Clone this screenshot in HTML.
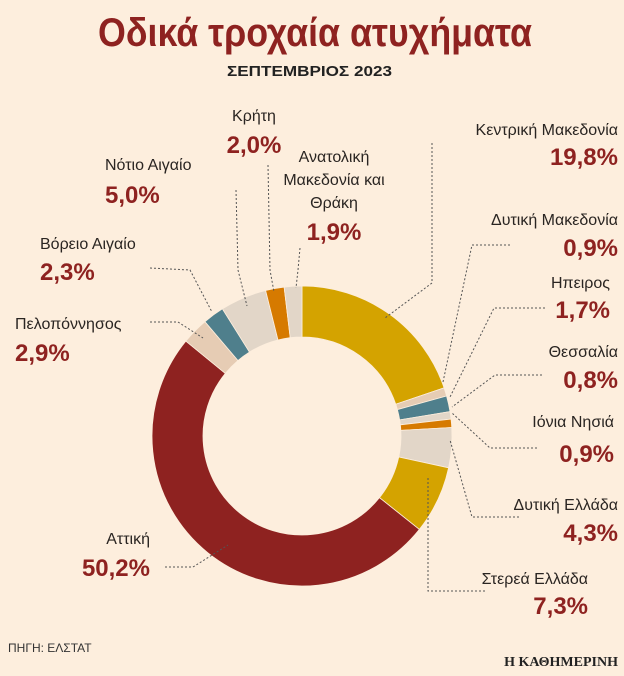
<!DOCTYPE html>
<html><head><meta charset="utf-8"><style>
body{margin:0;background:#fdeedd;}
svg{display:block;font-family:"Liberation Sans",sans-serif;}
.l{font-size:16px;fill:#2a2522;}
.p{font-family:"Liberation Sans",sans-serif;font-weight:bold;font-size:24px;fill:#8e2220;}
.ld{fill:none;stroke:#555;stroke-width:1;stroke-dasharray:2 2;}
</style></head><body>
<svg width="624" height="676" viewBox="0 0 624 676">
<rect width="624" height="676" fill="#fdeedd"/>
<text x="98" y="46" textLength="434" lengthAdjust="spacingAndGlyphs" font-weight="bold" font-size="40" fill="#8e2220">Οδικά τροχαία ατυχήματα</text>
<text x="227" y="76" textLength="165" lengthAdjust="spacingAndGlyphs" font-weight="bold" font-size="15" fill="#222">ΣΕΠΤΕΜΒΡΙΟΣ 2023</text>
<g id="slices"></g>
<g id="leaders"></g>
<g id="labels"></g>
<text x="8" y="652" font-size="12" fill="#333">ΠΗΓΗ: ΕΛΣΤΑΤ</text>
<text x="618" y="666" text-anchor="end" font-family="'Liberation Serif',serif" font-weight="bold" font-size="14" fill="#222">Η ΚΑΘΗΜΕΡΙΝΗ</text>
</svg>
<script>
const regions=["Κεντρική Μακεδονία","Δυτική Μακεδονία","Ήπειρος","Θεσσαλία","Ιόνια Νησιά","Δυτική Ελλάδα","Στερεά Ελλάδα","Αττική","Πελοπόννησος","Βόρειο Αιγαίο","Νότιο Αιγαίο","Κρήτη","Ανατολική Μακεδονία και Θράκη"];
const values=[19.8,0.9,1.7,0.8,0.9,4.3,7.3,50.2,2.9,2.3,5.0,2.0,1.9];
const colors=["#d4a300","#e6ccb4","#4f7f8c","#e2d6c8","#d67a00","#e2d6c8","#d4a300","#8e2220","#e6ccb4","#4f7f8c","#e2d6c8","#d67a00","#e2d6c8"];
const valueLabels=["19,8%","0,9%","1,7%","0,8%","0,9%","4,3%","7,3%","50,2%","2,9%","2,3%","5,0%","2,0%","1,9%"];
const NS="http://www.w3.org/2000/svg";
const cx=302,cy=436,R=150,r=99;
const total=values.reduce((a,b)=>a+b,0);
const pt=(a,rad)=>[cx+rad*Math.sin(a),cy-rad*Math.cos(a)];
let acc=0;
const g=document.getElementById('slices');
values.forEach((v,i)=>{
 const a0=acc/total*2*Math.PI;acc+=v;const a1=acc/total*2*Math.PI;
 const lg=(a1-a0)>Math.PI?1:0;
 const p1=pt(a0,R),p2=pt(a1,R),p3=pt(a1,r),p4=pt(a0,r);
 const el=document.createElementNS(NS,'path');
 el.setAttribute('d',`M${p1}A${R},${R} 0 ${lg} 1 ${p2}L${p3}A${r},${r} 0 ${lg} 0 ${p4}Z`);
 el.setAttribute('fill',colors[i]);el.setAttribute('stroke','#fdeedd');el.setAttribute('stroke-width','0.8');
 
 
 g.appendChild(el);
});
const lay=[
 {x:618,a:'end',ly:[135],py:165,pl:[[432,143],[432,283],[385,318]]},
 {x:618,a:'end',ly:[225],py:256,pl:[[510,245],[472,245],[443,382]]},
 {x:610,a:'end',ly:[288],py:318,pl:[[545,308],[494,308],[450,397]]},
 {x:618,a:'end',ly:[357],py:388,pl:[[542,375],[495,375],[452,407]]},
 {x:614,a:'end',ly:[427],py:462,pl:[[537,448],[490,448],[452,413]]},
 {x:618,a:'end',ly:[510],py:541,pl:[[519,517],[472,517],[450,440]]},
 {x:588,a:'end',ly:[584],py:614,pl:[[485,591],[428,591],[428,478]]},
 {x:150,a:'end',ly:[544],py:576,pl:[[165,567],[193,567],[228,545]]},
 {x:15,a:'start',ly:[329],py:361,pl:[[150,322],[178,322],[203,338]]},
 {x:40,a:'start',ly:[249],py:280,pl:[[150,268],[190,270],[212,312]]},
 {x:105,a:'start',ly:[170],py:203,pl:[[236,190],[238,270],[247,306]]},
 {x:254,a:'middle',ly:[121],py:153,pl:[[268,165],[270,270],[274,292]]},
 {x:334,a:'middle',ly:[162,185,208],py:240,pl:[[300,248],[298,270],[296,288]]}
];
const ldr=document.getElementById('leaders'),lab=document.getElementById('labels');
regions.forEach((name,i)=>{
 const L=lay[i];
 const pl=document.createElementNS(NS,'polyline');
 pl.setAttribute('points',L.pl.map(p=>p.join(',')).join(' '));
 pl.setAttribute('class','ld');
 
 
 ldr.appendChild(pl);
 const lines=i===12?["Ανατολική","Μακεδονία και","Θράκη"]:[i===2?"Ηπειρος":name];
 lines.forEach((t,j)=>{
  const tx=document.createElementNS(NS,'text');
  tx.setAttribute('x',L.x);tx.setAttribute('y',L.ly[j]);tx.setAttribute('text-anchor',L.a);tx.setAttribute('class','l');
  tx.textContent=t;
  
  
  lab.appendChild(tx);
 });
 const pv=document.createElementNS(NS,'text');
 pv.setAttribute('x',L.x);pv.setAttribute('y',L.py);pv.setAttribute('text-anchor',L.a);pv.setAttribute('class','p');
 pv.textContent=valueLabels[i];
 
 
 lab.appendChild(pv);
});
</script>
</body></html>
